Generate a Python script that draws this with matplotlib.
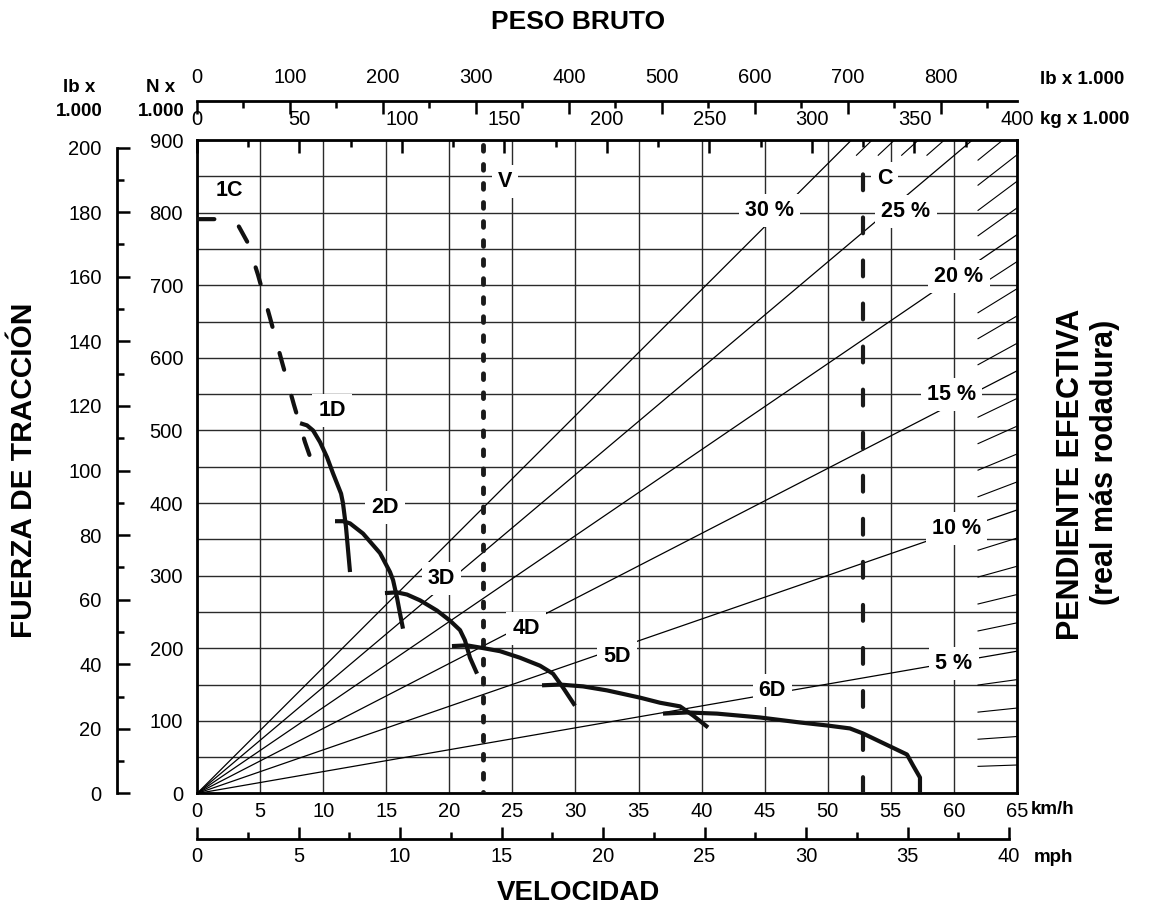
import numpy as np
import matplotlib.pyplot as plt
from matplotlib.ticker import MultipleLocator

plt.rcParams['font.family'] = ['Liberation Sans', 'DejaVu Sans']
plt.rcParams['lines.scale_dashes'] = False

# rimpull curves: speed (km/h) vs rimpull (kN)
c1_speed = [0, 2.54, 3.25, 4.04, 4.84, 5.79, 6.74, 7.69, 8.56, 8.96]
c1_force = [791, 791, 783, 758, 714, 655, 594, 535, 484, 464]

d1_speed = [8.17, 8.72, 9.20, 9.75, 10.31, 10.78, 11.42, 11.57, 11.81, 12.13]
d1_force = [510, 507, 500, 484, 463, 441, 413, 400, 367, 305]

d2_speed = [10.94, 11.57, 12.13, 13.16, 14.51, 15.30, 15.54, 15.85, 16.09, 16.33]
d2_force = [375, 375, 372, 358, 331, 305, 294, 270, 248, 227]

d3_speed = [14.90, 15.85, 16.65, 17.68, 19.02, 20.06, 20.85, 21.24, 21.64, 22.20]
d3_force = [276, 277, 274, 266, 252, 238, 225, 211, 187, 165]

d4_speed = [20.21, 21.40, 22.43, 24.02, 25.60, 27.19, 28.22, 29.01, 29.96]
d4_force = [203, 204, 201, 196, 187, 176, 165, 146, 121]

d5_speed = [27.35, 28.78, 30.60, 32.50, 35.12, 36.70, 38.29, 39.32, 40.51]
d5_force = [149, 150, 147.5, 142, 132, 125, 120, 107.5, 91]

d6_speed = [36.94, 38.84, 41.22, 44.63, 47.80, 49.94, 51.76, 52.79, 56.28, 56.76, 57.31, 57.31]
d6_force = [110, 111.6, 110, 104.7, 97.8, 93.7, 89.6, 82.7, 53.7, 38.6, 22, 0]

# reference speeds (km/h)
v_speed = 22.67
c_speed = 52.8

# effective grade lines (%)
major_grades = [5, 10, 15, 20, 25, 30]
minor_grades = [1, 2, 3, 4, 6, 7, 8, 9, 11, 12, 13, 14, 16, 17, 18, 19,
                21, 22, 23, 24, 26, 27, 28, 29]

# label positions (km/h, kN)
curve_labels = [('1D', 10.7, 528), ('2D', 14.9, 394), ('3D', 19.4, 296),
                ('4D', 26.1, 227), ('5D', 33.3, 189), ('6D', 45.6, 142)]
grade_labels = [('30 %', 45.4, 803), ('25 %', 56.2, 801), ('20 %', 60.4, 712),
                ('15 %', 59.8, 550), ('10 %', 60.2, 365), ('5 %', 60.0, 179)]

G = 9.81
T_PER_KLB = 0.45359237
KN_PER_KLB = 4.4482216
KMH_PER_MPH = 1.609344


def grade_slope(g):
    # kN per tonne of gross weight
    return G * np.sin(np.arctan(g / 100.0))


fig = plt.figure(figsize=(11.49, 9.21), dpi=100)
ax = fig.add_axes([0.17145, 0.13844, 0.71366, 0.70955])

# extra scales
axkg = ax.twiny()
axlbt = ax.twiny()
axmph = ax.twiny()
axlb = ax.twinx()

ax.set_xlim(0, 65)
ax.set_ylim(0, 900)
ax.xaxis.set_major_locator(MultipleLocator(5))
ax.yaxis.set_major_locator(MultipleLocator(100))
ax.yaxis.set_minor_locator(MultipleLocator(50))
ax.grid(True, which='major', axis='x', color='#2a2a2a', lw=1.0)
ax.grid(True, which='both', axis='y', color='#2a2a2a', lw=1.0)
ax.tick_params(axis='both', which='both', length=0, labelsize=14.5)
ax.tick_params(axis='y', pad=10)
ax.tick_params(axis='x', pad=6)
for s in ax.spines.values():
    s.set_linewidth(2.0)

tick_kw = dict(direction='in', width=1.8, labelsize=14.5)

# kg x 1000 (top of plot)
axkg.set_xlim(0, 400)
axkg.xaxis.set_major_locator(MultipleLocator(50))
axkg.xaxis.set_minor_locator(MultipleLocator(25))
axkg.tick_params(axis='x', which='major', length=9, pad=8, **tick_kw)
axkg.tick_params(axis='x', which='minor', length=5, direction='in', width=1.8)
for s in axkg.spines.values():
    s.set_visible(False)

# lb x 1000 (top scale)
axlbt.set_xlim(0, 400 / T_PER_KLB)
axlbt.xaxis.set_major_locator(MultipleLocator(100))
axlbt.xaxis.set_minor_locator(MultipleLocator(50))
axlbt.tick_params(axis='x', which='major', length=9, pad=10, **tick_kw)
axlbt.tick_params(axis='x', which='minor', length=5, direction='in', width=1.8)
for k, s in axlbt.spines.items():
    s.set_visible(k == 'top')
axlbt.spines['top'].set_position(('outward', 28))
axlbt.spines['top'].set_linewidth(2.0)

# mph (bottom scale)
axmph.set_xlim(0, 65 / KMH_PER_MPH)
axmph.xaxis.set_ticks_position('bottom')
axmph.xaxis.set_label_position('bottom')
axmph.xaxis.set_major_locator(MultipleLocator(5))
axmph.xaxis.set_minor_locator(MultipleLocator(2.5))
axmph.tick_params(axis='x', which='major', length=9, pad=5.5, **tick_kw)
axmph.tick_params(axis='x', which='minor', length=5, direction='in', width=1.8)
for k, s in axmph.spines.items():
    s.set_visible(k == 'bottom')
axmph.spines['bottom'].set_position(('outward', 33))
axmph.spines['bottom'].set_bounds(0, 40)
axmph.spines['bottom'].set_linewidth(2.0)

# lb x 1000 (left scale)
axlb.set_ylim(0, 900 / KN_PER_KLB)
axlb.yaxis.set_ticks_position('left')
axlb.yaxis.set_major_locator(MultipleLocator(20))
axlb.yaxis.set_minor_locator(MultipleLocator(10))
axlb.tick_params(axis='y', which='major', length=9, pad=11, **tick_kw)
axlb.tick_params(axis='y', which='minor', length=5, direction='in', width=1.8)
for k, s in axlb.spines.items():
    s.set_visible(k == 'left')
axlb.spines['left'].set_position(('outward', 57.6))
axlb.spines['left'].set_bounds(0, 200)
axlb.spines['left'].set_linewidth(2.0)

# grade lines, drawn in the weight scale (t) against rimpull (kN)
wt = axkg.transData
for g in major_grades:
    s = grade_slope(g)
    m_end = min(400, 900 / s)
    ax.plot([0, m_end], [0, s * m_end], color='black', lw=0.9,
            transform=wt, zorder=2)

# short grade marks along the right and top edge
m_in, f_in = 381, 879
for g in minor_grades:
    s = grade_slope(g)
    m_end = min(400, 900 / s)
    m_start = min(m_in, f_in / s)
    ax.plot([m_start, m_end], [s * m_start, s * m_end], color='black',
            lw=0.8, transform=wt, zorder=2)

box = dict(facecolor='white', edgecolor='none', boxstyle='square,pad=0.28')
lab_kw = dict(ha='center', va='center', fontsize=15.5, fontweight='bold', zorder=3)
for txt, x, y in curve_labels + grade_labels:
    ax.text(x, y, txt, bbox=box, **lab_kw)
ax.text(2.54, 830, '1C', **lab_kw)
ax.text(24.4, 843, 'V', bbox=box, **lab_kw)
ax.text(54.5, 847, 'C', bbox=box, **lab_kw)

# reference speed lines
ax.plot([v_speed, v_speed], [893, 0], color='#1a1a1a', lw=3.5,
        linestyle=(0, (4.1, 9.6)), dash_capstyle='round', zorder=4)
ax.plot([c_speed, c_speed], [0, 868], color='#1a1a1a', lw=3.0,
        linestyle=(0, (11.4, 19.6)), dash_capstyle='round', zorder=4)

# rimpull curves
ax.plot(c1_speed, c1_force, color='#111111', lw=3.0,
        linestyle=(0, (12.5, 19.5)), dash_capstyle='round', zorder=4)
for xs, ys in [(d1_speed, d1_force), (d2_speed, d2_force), (d3_speed, d3_force),
               (d4_speed, d4_force), (d5_speed, d5_force), (d6_speed, d6_force)]:
    ax.plot(xs, ys, color='#111111', lw=3.0, solid_joinstyle='round',
            solid_capstyle='butt', zorder=4)

ax.set_xlim(0, 65)
ax.set_ylim(0, 900)

# titles and unit labels
W, H = 1149.0, 921.0
def ftxt(x, y, s, **kw):
    fig.text(x / W, 1 - y / H, s, **kw)

ftxt(578, 22, 'PESO BRUTO', ha='center', va='center', fontsize=19, fontweight='bold')
ftxt(578, 893, 'VELOCIDAD', ha='center', va='center', fontsize=20, fontweight='bold')
ftxt(24, 470, 'FUERZA DE TRACCIÓN', rotation=90, ha='center', va='center',
     fontsize=21.5, fontweight='bold')
ftxt(1071, 474, 'PENDIENTE EFECTIVA', rotation=90, ha='center', va='center',
     fontsize=22, fontweight='bold')
ftxt(1105, 462, '(real más rodadura)', rotation=90, ha='center', va='center',
     fontsize=22, fontweight='bold')

unit_kw = dict(va='center', fontsize=13.5, fontweight='bold')
ftxt(79, 87, 'lb x', ha='center', **unit_kw)
ftxt(79, 111, '1.000', ha='center', **unit_kw)
ftxt(161, 87, 'N x', ha='center', **unit_kw)
ftxt(161, 111, '1.000', ha='center', **unit_kw)
ftxt(1040, 80, 'lb x 1.000', ha='left', **unit_kw)
ftxt(1040, 119, 'kg x 1.000', ha='left', **unit_kw)
ftxt(1031, 810, 'km/h', ha='left', **unit_kw)
ftxt(1034, 857, 'mph', ha='left', **unit_kw)

fig.savefig('out.png', dpi=100)
